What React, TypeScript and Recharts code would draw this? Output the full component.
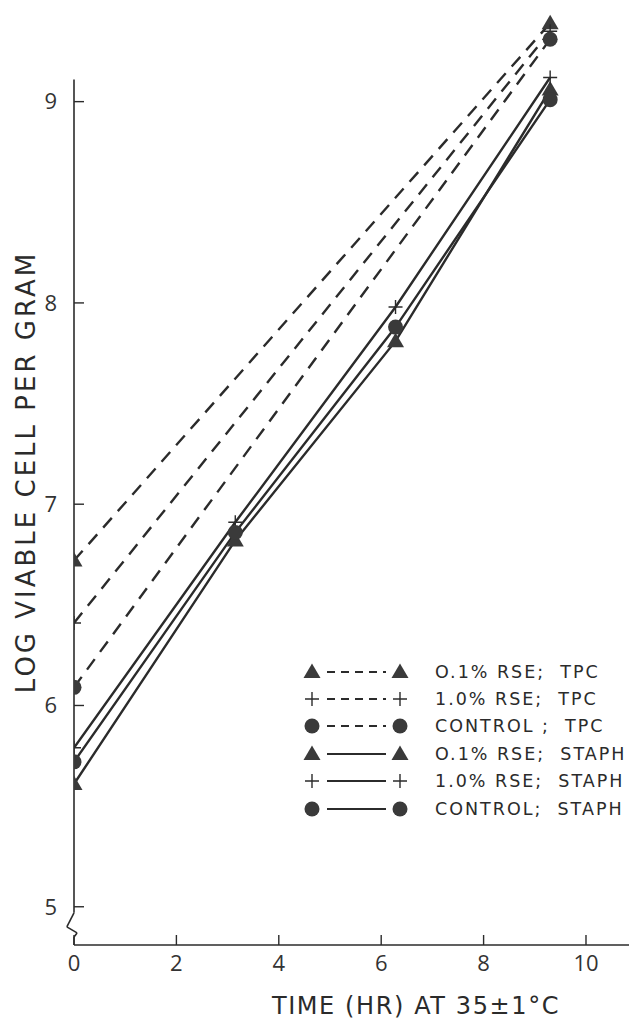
import { LineChart, Line, XAxis, YAxis, ReferenceLine, Legend } from "recharts";

// time points (hr) and log counts
const times = [0, 3.15, 6.28, 9.3];
const tpc01 = [6.72, null, null, 9.39];
const tpc10 = [6.41, null, null, 9.35];
const tpcControl = [6.09, null, null, 9.31];
const staph01 = [5.61, 6.82, 7.81, 9.06];
const staph10 = [5.79, 6.91, 7.98, 9.12];
const staphControl = [5.72, 6.86, 7.88, 9.01];

const xTicks = [0, 2, 4, 6, 8, 10];
const yTicks = [5, 6, 7, 8, 9];

const INK = "#2b2b2b";
const MARK = "#3a3a3a";

const series = [
  { key: "tpc01", label: "O.1% RSE;  TPC", shape: "triangle", dashed: true },
  { key: "tpc10", label: "1.0% RSE;  TPC", shape: "plus", dashed: true },
  { key: "tpcControl", label: "CONTROL ;  TPC", shape: "circle", dashed: true },
  { key: "staph01", label: "O.1% RSE;  STAPH", shape: "triangle", dashed: false },
  { key: "staph10", label: "1.0% RSE;  STAPH", shape: "plus", dashed: false },
  { key: "staphControl", label: "CONTROL;  STAPH", shape: "circle", dashed: false },
];

const data = times.map((t, i) => ({
  time: t,
  tpc01: tpc01[i],
  tpc10: tpc10[i],
  tpcControl: tpcControl[i],
  staph01: staph01[i],
  staph10: staph10[i],
  staphControl: staphControl[i],
}));

function Marker({ cx, cy, shape }: { cx?: number; cy?: number; shape: string }) {
  if (cx == null || cy == null || isNaN(cx) || isNaN(cy)) return <g />;
  if (shape === "triangle") {
    return <path d={`M${cx},${cy - 8.5} L${cx + 8.5},${cy + 6} L${cx - 8.5},${cy + 6} Z`} fill={MARK} />;
  }
  if (shape === "plus") {
    return (
      <path
        d={`M${cx - 7},${cy} H${cx + 7} M${cx},${cy - 7} V${cy + 7}`}
        stroke={INK}
        strokeWidth={1.4}
        fill="none"
      />
    );
  }
  return <circle cx={cx} cy={cy} r={7.5} fill={MARK} />;
}

function LegendBox() {
  return (
    <div style={{ fontFamily: "'DejaVu Sans', sans-serif", fontSize: 17.5, color: INK }}>
      {series.map((s) => (
        <div key={s.key} style={{ display: "flex", alignItems: "center", height: 27.4 }}>
          <svg width={110} height={20} style={{ display: "block" }}>
            <Marker cx={12} cy={10} shape={s.shape} />
            <line
              x1={27}
              y1={10}
              x2={86}
              y2={10}
              stroke={INK}
              strokeWidth={2.2}
              strokeDasharray={s.dashed ? "8 6" : undefined}
            />
            <Marker cx={100} cy={10} shape={s.shape} />
          </svg>
          <span style={{ marginLeft: 25, letterSpacing: 2, whiteSpace: "pre" }}>{s.label}</span>
        </div>
      ))}
    </div>
  );
}

export default function App() {
  return (
    <div style={{ position: "absolute", left: 0, top: 0, width: 629, height: 1019, background: "#fff" }}>
      <LineChart width={629} height={1019} data={data} margin={{ top: 1, right: 0, bottom: 14, left: 0 }}>
        <XAxis
          type="number"
          dataKey="time"
          domain={[0, 10.84]}
          ticks={xTicks}
          allowDataOverflow
          height={60}
          tickSize={-10}
          tickMargin={20}
          axisLine={{ stroke: INK, strokeWidth: 1.6 }}
          tickLine={{ stroke: INK, strokeWidth: 1.4 }}
          tick={{ fill: "#333", fontSize: 22, fontFamily: "'Open Sans', sans-serif" }}
          label={{
            content: () => (
              <text
                x={416}
                y={1006}
                textAnchor="middle"
                dominantBaseline="central"
                fill={INK}
                fontSize={24}
                letterSpacing={1.6}
                fontFamily="'DejaVu Sans', sans-serif"
              >
                TIME (HR) AT 35±1°C
              </text>
            ),
          }}
        />
        <YAxis
          type="number"
          domain={[4.81, 9.5]}
          ticks={yTicks}
          allowDataOverflow
          width={74}
          axisLine={false}
          tickSize={-10}
          tickMargin={27}
          tickLine={{ stroke: INK, strokeWidth: 1.4 }}
          tick={{ fill: "#333", fontSize: 22, fontFamily: "'Open Sans', sans-serif" }}
          label={{
            content: () => (
              <text
                x={26}
                y={472}
                transform="rotate(-90 26 472)"
                textAnchor="middle"
                dominantBaseline="central"
                fill={INK}
                fontSize={26}
                letterSpacing={3}
                fontFamily="'DejaVu Sans', sans-serif"
              >
                LOG VIABLE CELL PER GRAM
              </text>
            ),
          }}
        />
        {/* y axis line with the broken-scale zigzag near the bottom */}
        <ReferenceLine segment={[{ x: 0, y: 4.97 }, { x: 0, y: 9.11 }]} stroke={INK} strokeWidth={1.6} ifOverflow="visible" />
        <ReferenceLine segment={[{ x: 0, y: 4.97 }, { x: -0.14, y: 4.9 }]} stroke={INK} strokeWidth={1.6} ifOverflow="visible" />
        <ReferenceLine segment={[{ x: -0.14, y: 4.9 }, { x: 0.06, y: 4.87 }]} stroke={INK} strokeWidth={1.6} ifOverflow="visible" />
        <ReferenceLine segment={[{ x: 0.06, y: 4.87 }, { x: 0, y: 4.85 }]} stroke={INK} strokeWidth={1.6} ifOverflow="visible" />
        <ReferenceLine segment={[{ x: 0, y: 4.85 }, { x: 0, y: 4.81 }]} stroke={INK} strokeWidth={1.6} ifOverflow="visible" />
        {series.map((s) => (
          <Line
            key={s.key}
            type="linear"
            dataKey={s.key}
            stroke={INK}
            strokeWidth={2.4}
            strokeDasharray={s.dashed ? "13 9" : undefined}
            connectNulls
            isAnimationActive={false}
            dot={(p: any) => <Marker key={`${s.key}-${p.index}`} cx={p.cx} cy={p.cy} shape={s.shape} />}
            activeDot={false}
          />
        ))}
        <Legend
          layout="vertical"
          verticalAlign="middle"
          align="center"
          content={() => <LegendBox />}
          wrapperStyle={{ left: 300, top: 658, width: 329, height: 170 }}
        />
      </LineChart>
    </div>
  );
}
